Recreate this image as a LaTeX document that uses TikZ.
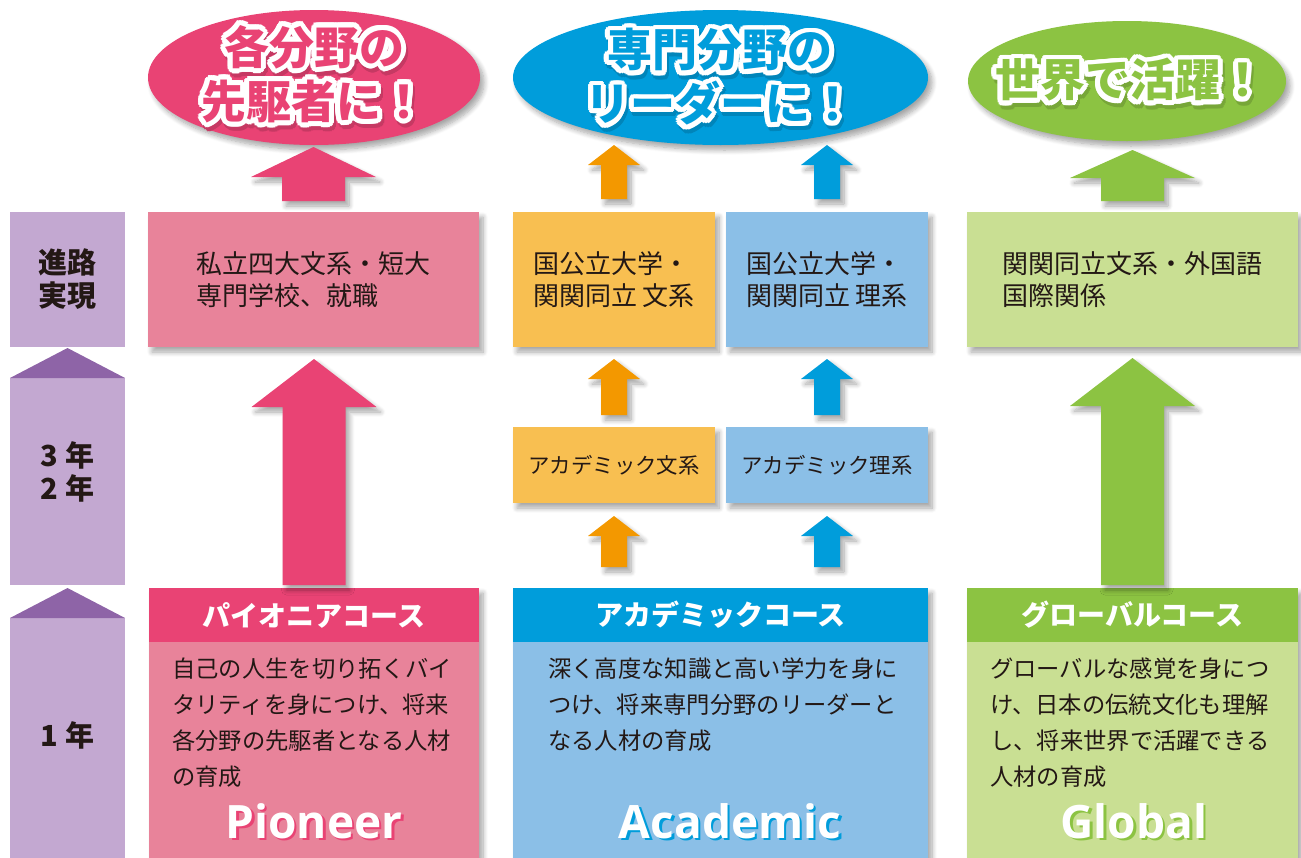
\documentclass[tikz,border=0pt]{standalone}
\usepackage{fontspec}
\setmainfont{Noto Sans CJK JP}
\newfontfamily\latinb{Open Sans}
\usetikzlibrary{calc,shapes.geometric,shadows.blur}
\definecolor{pinkD}{HTML}{E94374}
\definecolor{pinkL}{HTML}{E8839A}
\definecolor{blueD}{HTML}{009DDB}
\definecolor{blueL}{HTML}{8BBFE7}
\definecolor{orangeD}{HTML}{F39800}
\definecolor{orangeL}{HTML}{F8BF51}
\definecolor{greenD}{HTML}{8CC342}
\definecolor{greenL}{HTML}{C9DF93}
\definecolor{purL}{HTML}{C3A8D1}
\definecolor{purD}{HTML}{8E64A7}
\definecolor{txt}{HTML}{231815}
\tikzset{
  sh/.style={blur shadow={shadow xshift=4pt,shadow yshift=-5pt,shadow blur radius=5pt,shadow blur steps=8,shadow opacity=35}},
  box/.style={rectangle,inner sep=0,outer sep=0,anchor=north west},
  ell/.style={ellipse,inner sep=0,outer sep=0,sh},
  ttl/.style={font=\bfseries\fontsize{45}{54}\selectfont,align=center,inner sep=0},
  restext/.style={text=txt,font=\fontsize{26}{32}\selectfont,align=left},
  acatext/.style={text=txt,font=\fontsize{21.4}{26}\selectfont},
  headtext/.style={text=white,font=\bfseries\fontsize{28}{32}\selectfont},
  bodytext/.style={text=txt,font=\fontsize{23.3}{36}\selectfont,align=left,anchor=north west,inner sep=0},
  sidetext/.style={text=txt,font=\bfseries\fontsize{29}{33}\selectfont,align=center,inner sep=0},
  bigword/.style={font=\latinb\bfseries\fontsize{46}{50}\selectfont,anchor=base,inner sep=0},
}
\newcommand\titletext[4]{%
  \foreach \a in {0,20,...,340}{\node[ttl,text=#2!85!black] at ($(#1)+(\a:5)+(2,4)$) {#3};}
  \foreach \a in {0,20,...,340}{\node[ttl,text=white] at ($(#1)+(\a:5)$) {#3};}
  \node[ttl,text=#2] (#4) at (#1) {#3};
}
\newcommand\blockarrow[6]{%
  \fill[#6,sh] let \p1=(#1), \p2=(#2) in
    (\x1-#5pt,\y1) -- (\x1-#5pt,\y2-#3pt) -- (\x1-#4pt,\y2-#3pt) -- (\x1,\y2)
    -- (\x1+#4pt,\y2-#3pt) -- (\x1+#5pt,\y2-#3pt) -- (\x1+#5pt,\y1) -- cycle;
}
\newcommand\bigword[4]{%
  \node[bigword,text=#2] at ($(#1)+(2.5,2.5)$) {#3};
  \node[bigword,text=white] (#4) at (#1) {#3};
}
\begin{document}
\begin{tikzpicture}[x=1pt,y=-1pt]
\useasboundingbox (0,0) rectangle (1301,857);
\begin{scope}
\clip (0,0) rectangle (1301,857);
% side column
\node[box,fill=purL,minimum width=115pt,minimum height=135pt] (pu1) at (10,212) {};
\node[box,fill=purL,minimum width=115pt,minimum height=207pt] (pu2) at (10,378) {};
\node[box,fill=purL,minimum width=115pt,minimum height=245pt] (pu3) at (10,618) {};
\fill[purD] (pu2.north west) -- ($(pu2.north)+(0,-30)$) -- (pu2.north east) -- cycle;
\fill[purD] (pu3.north west) -- ($(pu3.north)+(0,-30)$) -- (pu3.north east) -- cycle;
\node[sidetext] (s1) at (pu1.center) {進路\\実現};
\node[sidetext] (s2) at (67.5,472) {3 年\\2 年};
\node[sidetext] (s3) at (67.5,735) {1 年};
% ellipses
\node[ell,fill=pinkD,minimum width=332pt,minimum height=135pt] (e1) at (314,77.5) {};
\node[ell,fill=blueD,minimum width=415pt,minimum height=135pt] (e2) at (720.5,77.5) {};
\node[ell,fill=greenD,minimum width=318pt,minimum height=120pt] (e3) at (1127,81) {};
% result boxes
\node[box,fill=pinkL,sh,minimum width=331pt,minimum height=135pt] (pR) at (148,212) {};
\node[box,fill=orangeL,sh,minimum width=202pt,minimum height=135pt] (oR) at (513,212) {};
\node[box,fill=blueL,sh,minimum width=202pt,minimum height=135pt] (bR) at (726,212) {};
\node[box,fill=greenL,sh,minimum width=331pt,minimum height=135pt] (gR) at (967,212) {};
\node[restext] at (pR.center) {私立四大文系・短大\\専門学校、就職};
\node[restext] at (oR.center) {国公立大学・\\関関同立 文系};
\node[restext] at (bR.center) {国公立大学・\\関関同立 理系};
\node[restext] at (gR.center) {関関同立文系・外国語\\国際関係};
% academic boxes
\node[box,fill=orangeL,sh,minimum width=202pt,minimum height=76pt] (aL) at (513,427) {};
\node[box,fill=blueL,sh,minimum width=202pt,minimum height=76pt] (aR) at (726,427) {};
\node[acatext] at (aL.center) {アカデミック文系};
\node[acatext] at (aR.center) {アカデミック理系};
% course boxes
\node[box,fill=pinkL,sh,minimum width=330pt,minimum height=275pt] (pC) at (149,588) {};
\node[box,fill=blueL,sh,minimum width=415pt,minimum height=275pt] (cA) at (513,588) {};
\node[box,fill=greenL,sh,minimum width=331pt,minimum height=275pt] (gC) at (967,588) {};
\node[box,fill=pinkD,minimum width=330pt,minimum height=54pt] (pH) at (pC.north west) {};
\node[box,fill=blueD,minimum width=415pt,minimum height=54pt] (aH) at (cA.north west) {};
\node[box,fill=greenD,minimum width=331pt,minimum height=54pt] (gH) at (gC.north west) {};
\node[headtext] at (pH.center) {パイオニアコース};
\node[headtext] at (aH.center) {アカデミックコース};
\node[headtext] at (gH.center) {グローバルコース};
\node[bodytext] at (172,658) {自己の人生を切り拓くバイ\\タリティを身につけ、将来\\各分野の先駆者となる人材\\の育成};
\node[bodytext] at (548,658) {深く高度な知識と高い学力を身に\\つけ、将来専門分野のリーダーと\\なる人材の育成};
\node[bodytext] at (990,658) {グローバルな感覚を身につ\\け、日本の伝統文化も理解\\し、将来世界で活躍できる\\人材の育成};
\bigword{314,838}{pinkD}{Pioneer}{w1}
\bigword{730,838}{blueD}{Academic}{w2}
\bigword{1134,838}{greenD}{Global}{w3}
% arrows
\blockarrow{$(pR.north)+(0,-11)$}{$(e1.south)+(0,2)$}{30}{62.5}{31.5}{pinkD}
\blockarrow{$(oR.north)+(0,-13)$}{$(e2.south)+(0,0)$}{20}{26}{13}{orangeD}
\blockarrow{$(bR.north)+(0,-13)$}{$(e2.south)+(0,0)$}{20}{26}{13}{blueD}
\blockarrow{$(gR.north)+(0,-11)$}{$(e3.south)+(0,9)$}{28}{62.5}{31.5}{greenD}
\blockarrow{$(pC.north)+(0,-3)$}{$(pR.south)+(0,12)$}{48}{62.5}{31.5}{pinkD}
\blockarrow{$(gC.north)+(0,-3)$}{$(gR.south)+(0,11)$}{48}{62.5}{31.5}{greenD}
\blockarrow{$(aL.north)+(0,-12)$}{$(oR.south)+(0,12)$}{20}{26}{13}{orangeD}
\blockarrow{$(aR.north)+(0,-12)$}{$(bR.south)+(0,12)$}{20}{26}{13}{blueD}
\blockarrow{$(aL.south |- cA.north)+(0,-21)$}{$(aL.south)+(0,13)$}{20}{26}{13}{orangeD}
\blockarrow{$(aR.south |- cA.north)+(0,-21)$}{$(aR.south)+(0,13)$}{20}{26}{13}{blueD}
% titles
\titletext{314,74}{pinkD}{各分野の\\先駆者に！}{t1}
\titletext{720,77}{blueD}{専門分野の\\リーダーに！}{t2}
\titletext{1130,80}{greenD}{世界で活躍！}{t3}
\end{scope}
\end{tikzpicture}
\end{document}
